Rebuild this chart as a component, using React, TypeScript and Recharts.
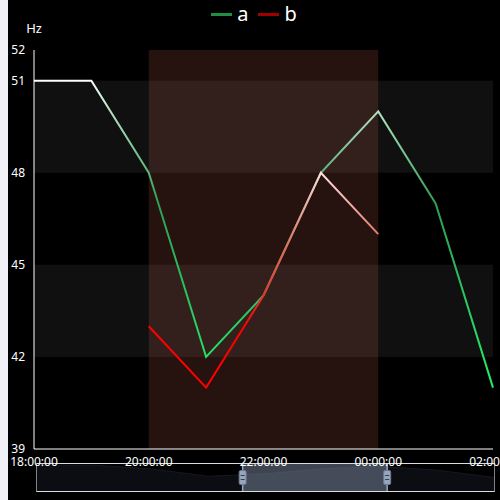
import {
  Area,
  ComposedChart,
  Legend,
  Line,
  LineChart,
  ReferenceArea,
  ReferenceLine,
  XAxis,
  YAxis,
  Label,
} from 'recharts'

const TIMES = ['18:00:00', '19:00:00', '20:00:00', '21:00:00', '22:00:00', '23:00:00', '00:00:00', '01:00:00', '02:00:00']
const SERIES_A = [51, 51, 48, 42, 44, 48, 50, 47, 41]
const SERIES_B: (number | null)[] = [null, null, 43, 41, 44, 48, 46, null, null]
const Y_TICKS = [39, 42, 45, 48, 51, 52]
const Y_DOMAIN = [39, 52]
const BANDS = [
  [42, 45],
  [48, 51],
]
const MARK_RANGE = ['20:00:00', '00:00:00']
const ZOOM_WINDOW = [3.6, 6.13]

const FONT = '"Noto Sans", sans-serif'

const data = TIMES.map((t, i) => ({ time: t, idx: i, a: SERIES_A[i], b: SERIES_B[i] }))

// objectBoundingBox offsets for a value within a series' own range
function offsetOf(values: (number | null)[], v: number) {
  const nums = values.filter((x): x is number => x !== null)
  const max = Math.max(...nums)
  const min = Math.min(...nums)
  return Math.min(1, Math.max(0, (max - v) / (max - min)))
}

const LEGEND = [
  { name: 'a', color: '#1f8f45' },
  { name: 'b', color: '#a00000' },
]

function LegendContent() {
  return (
    <div style={{ display: 'flex', justifyContent: 'center', gap: 10, fontFamily: FONT, fontSize: 20, color: '#fff' }}>
      {LEGEND.map((l) => (
        <div key={l.name} style={{ display: 'flex', alignItems: 'center', gap: 5 }}>
          <span style={{ display: 'inline-block', width: 21, height: 3, background: l.color }} />
          <span style={{ lineHeight: '26px' }}>{l.name}</span>
        </div>
      ))}
    </div>
  )
}

function Handle(props: any) {
  const x = props.viewBox?.x ?? 0
  const y = props.viewBox?.y ?? 0
  const h = props.viewBox?.height ?? 0
  const cy = y + h / 2
  return (
    <g>
      <rect x={x - 3.5} y={cy - 7} width={7} height={14} rx={1.5} fill="#97a6bd" stroke="#6b7a90" />
      <line x1={x - 2} x2={x + 2} y1={cy - 2} y2={cy - 2} stroke="#33404f" />
      <line x1={x - 2} x2={x + 2} y1={cy + 2} y2={cy + 2} stroke="#33404f" />
    </g>
  )
}

export default function App() {
  return (
    <div style={{ position: 'absolute', left: 8, top: 0, width: 492, height: 500, background: '#000' }}>
      <style>{'body{background:#f1f1f7}'}</style>
      <div
        style={{
          position: 'absolute',
          left: 28,
          top: 463,
          width: 459,
          height: 29,
          borderTop: '1px solid #d8dce4',
          borderBottom: '1px solid #d8dce4',
          borderLeft: '1px solid #808080',
          borderRight: '1px solid #808080',
          boxSizing: 'border-box',
        }}
      >
        <ComposedChart width={457} height={27} data={data} margin={{ top: 0, right: 0, bottom: 0, left: 0 }}>
          <XAxis dataKey="idx" type="number" domain={[0, 8]} hide />
          <YAxis domain={[30, 52]} hide />
          <Area dataKey="a" fill="#0b0d12" stroke="#151920" fillOpacity={1} dot={false} isAnimationActive={false} />
          <ReferenceArea x1={ZOOM_WINDOW[0]} x2={ZOOM_WINDOW[1]} fill="#7d8aa0" fillOpacity={0.5} stroke="none" />
          {ZOOM_WINDOW.map((x) => (
            <ReferenceLine key={x} x={x} stroke="#97a6bd" strokeWidth={1.5} label={<Handle />} />
          ))}
        </ComposedChart>
      </div>
      <div style={{ position: 'absolute', left: 0, top: 0 }}>
        <LineChart width={492} height={500} data={data} margin={{ top: 50, right: 7, bottom: 21, left: 0 }}>
          <defs>
            <linearGradient id="gradA" x1="0" y1="0" x2="0" y2="1">
              <stop offset={offsetOf(SERIES_A, 51)} stopColor="#ffffff" />
              <stop offset={offsetOf(SERIES_A, 50)} stopColor="#b4e2c2" />
              <stop offset={offsetOf(SERIES_A, 47)} stopColor="#2f9c55" />
              <stop offset={offsetOf(SERIES_A, 44)} stopColor="#2cc460" />
              <stop offset={offsetOf(SERIES_A, 41)} stopColor="#22f066" />
            </linearGradient>
            <linearGradient id="gradB" x1="0" y1="0" x2="0" y2="1">
              <stop offset={offsetOf(SERIES_B, 48)} stopColor="#ffe0e0" />
              <stop offset={offsetOf(SERIES_B, 46)} stopColor="#e77a70" />
              <stop offset={offsetOf(SERIES_B, 44)} stopColor="#e8302a" />
              <stop offset={offsetOf(SERIES_B, 43)} stopColor="#ff0000" />
              <stop offset={offsetOf(SERIES_B, 41)} stopColor="#ff0000" />
            </linearGradient>
          </defs>
          {BANDS.map(([lo, hi]) => (
            <ReferenceArea key={lo} y1={lo} y2={hi} fill="#101010" fillOpacity={1} stroke="none" />
          ))}
          <ReferenceArea x1={MARK_RANGE[0]} x2={MARK_RANGE[1]} fill="#ff8066" fillOpacity={0.15} stroke="none" />
          <XAxis
            dataKey="time"
            interval={1}
            height={30}
            tickLine={false}
            tickMargin={2}
            stroke="#fff"
            tick={{ fill: '#fff', fontSize: 12, fontFamily: FONT }}
          />
          <YAxis
            domain={Y_DOMAIN}
            ticks={Y_TICKS}
            width={26}
            tickLine={false}
            tickMargin={3}
            stroke="#fff"
            interval={0}
            tick={{ fill: '#fff', fontSize: 12, fontFamily: FONT }}
          >
            <Label value="Hz" position="top" offset={17} dx={13} fill="#fff" fontSize={13} fontFamily={FONT} />
          </YAxis>
          <Legend verticalAlign="middle" content={<LegendContent />} wrapperStyle={{ top: 1, left: 0, width: 492 }} />
          <Line dataKey="a" stroke="url(#gradA)" strokeWidth={2} dot={false} isAnimationActive={false} />
          <Line dataKey="b" stroke="url(#gradB)" strokeWidth={2} dot={false} isAnimationActive={false} />
        </LineChart>
      </div>
    </div>
  )
}
